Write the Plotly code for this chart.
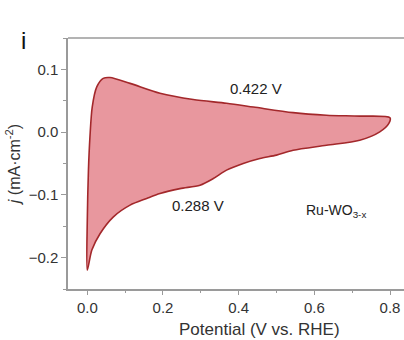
import plotly.graph_objects as go

# Anodic (forward) scan
x_fwd = [0.000, 0.000, 0.003, 0.007, 0.013, 0.025, 0.042, 0.060, 0.113, 0.192, 0.280, 0.368, 0.439, 0.544, 0.632, 0.720, 0.800]
y_fwd = [-0.220, -0.140, -0.061, -0.0075, 0.040, 0.072, 0.0856, 0.087, 0.0777, 0.062, 0.052, 0.046, 0.040, 0.031, 0.027, 0.0255, 0.023]
# Cathodic (reverse) scan
x_rev = [0.797, 0.773, 0.720, 0.632, 0.544, 0.500, 0.456, 0.412, 0.368, 0.333, 0.298, 0.245, 0.192, 0.157, 0.113, 0.069, 0.034, 0.012, 0.000]
y_rev = [0.014, 0.0005, -0.0128, -0.021, -0.029, -0.0367, -0.042, -0.050, -0.0606, -0.074, -0.0845, -0.090, -0.0978, -0.1057, -0.1164, -0.135, -0.1616, -0.188, -0.220]

peak_labels = ["0.422 V", "0.288 V"]
peak_label_x = [0.446, 0.293]
peak_label_y = [0.070, -0.117]

FONT = "Liberation Sans, Arial, sans-serif"
AXC = "#9a9a9a"

fig = go.Figure()
fig.add_trace(go.Scatter(
    x=x_fwd + x_rev, y=y_fwd + y_rev, mode="lines", fill="toself",
    fillcolor="#e8979e", line=dict(color="#a3282b", width=1.6, shape="spline", smoothing=0.8),
    hoverinfo="skip", showlegend=False))

for t, xx, yy in zip(peak_labels, peak_label_x, peak_label_y):
    fig.add_annotation(x=xx, y=yy, text=t, showarrow=False,
                       font=dict(family=FONT, size=15, color="#222"))

fig.add_annotation(x=0.573, y=-0.125, text="Ru-WO<sub>3-x</sub>", showarrow=False,
                   xanchor="left", font=dict(family=FONT, size=14, color="#222"))

fig.add_annotation(xref="paper", yref="paper", x=-0.146, y=1.052, text="i", showarrow=False,
                   font=dict(family=FONT, size=24, color="#111"))
fig.add_annotation(xref="paper", yref="paper", x=0.571, y=-0.163, text="Potential (V vs. RHE)",
                   showarrow=False, yanchor="middle", font=dict(family=FONT, size=17, color="#333"))

fig.add_shape(type="line", xref="paper", yref="paper", x0=0, x1=1, y0=1, y1=1,
              line=dict(color=AXC, width=1.5))

fig.update_xaxes(range=[-0.051, 0.837], showline=True, linecolor=AXC, linewidth=1.5,
                 ticks="outside", ticklen=4, tickcolor=AXC, dtick=0.2, tick0=0,
                 tickformat=".1f", showgrid=False, zeroline=False,
                 minor=dict(dtick=0.1, tick0=0, ticks="outside", ticklen=2, tickcolor=AXC),
                 tickfont=dict(family=FONT, size=15, color="#333"))
fig.update_yaxes(range=[-0.25, 0.15], showline=True, linecolor=AXC, linewidth=1.5,
                 ticks="outside", ticklen=5, tickcolor=AXC, dtick=0.1, tick0=0,
                 tickformat=".1f", showgrid=False, zeroline=False,
                 minor=dict(dtick=0.05, tick0=0, ticks="outside", ticklen=3, tickcolor=AXC),
                 tickfont=dict(family=FONT, size=15, color="#333"),
                 title=dict(text="<i>j</i> (mA·cm<sup>-2</sup>)", standoff=4,
                            font=dict(family=FONT, size=16, color="#333")))

fig.update_layout(width=404, height=340, margin=dict(l=68, r=0, t=38, b=51),
                  plot_bgcolor="white", paper_bgcolor="white")
fig.write_html("out.html")
